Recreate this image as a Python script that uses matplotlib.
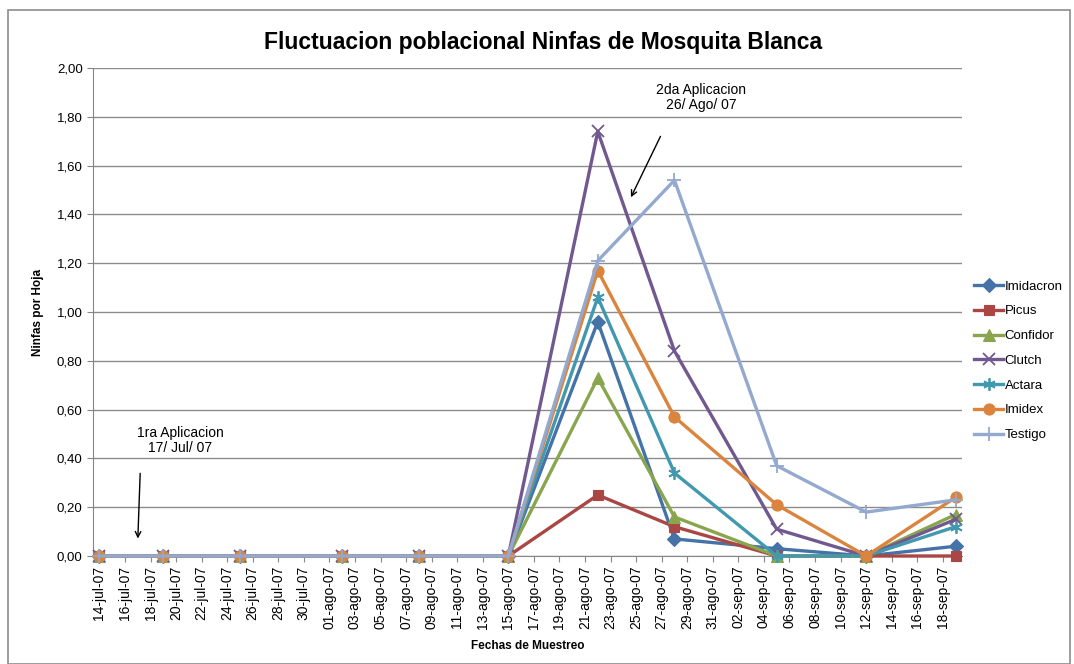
import numpy as np
import pandas as pd
import matplotlib
matplotlib.use("Agg")
from matplotlib import pyplot as plt
from matplotlib.patches import Rectangle

plt.rcParams['font.family'] = ['Liberation Sans', 'DejaVu Sans']

# fechas de muestreo
fechas = pd.to_datetime(['2007-07-14', '2007-07-19', '2007-07-25', '2007-08-02',
                         '2007-08-08', '2007-08-15', '2007-08-22', '2007-08-28',
                         '2007-09-05', '2007-09-12', '2007-09-19'])

imidacron = [0, 0, 0, 0, 0, 0, 0.96, 0.07, 0.03, 0, 0.04]
picus     = [0, 0, 0, 0, 0, 0, 0.25, 0.12, 0, 0, 0]
confidor  = [0, 0, 0, 0, 0, 0, 0.73, 0.16, 0, 0, 0.17]
clutch    = [0, 0, 0, 0, 0, 0, 1.74, 0.84, 0.11, 0, 0.15]
actara    = [0, 0, 0, 0, 0, 0, 1.06, 0.34, 0, 0, 0.12]
imidex    = [0, 0, 0, 0, 0, 0, 1.17, 0.57, 0.21, 0, 0.24]
testigo   = [0, 0, 0, 0, 0, 0, 1.21, 1.54, 0.37, 0.18, 0.23]

meses = {7: 'jul', 8: 'ago', 9: 'sep'}

series = [
    ('Imidacron', imidacron, '#4572A7', 'D', 7),
    ('Picus', picus, '#AA4643', 's', 7.5),
    ('Confidor', confidor, '#89A54E', '^', 8),
    ('Clutch', clutch, '#71588F', 'x', 8),
    ('Actara', actara, '#4198AF', (6, 2, 0), 9),
    ('Imidex', imidex, '#DB843D', 'o', 8),
    ('Testigo', testigo, '#93A9CF', '+', 10),
]

inicio = fechas[0]
dias = np.array([(f - inicio).days for f in fechas])

fig = plt.figure(figsize=(10.74, 6.64), dpi=100)
fig.patches.append(Rectangle((8 / 1074, 0), 1062 / 1074, 654 / 664,
                             transform=fig.transFigure, fill=False,
                             edgecolor='#8c8c8c', linewidth=1.2))
ax = fig.add_axes([93 / 1074, 1 - 556 / 664, 869 / 1074, 488 / 664])

for nombre, vals, color, mk, ms in series:
    ax.plot(dias, vals, color=color, lw=2.4, marker=mk, markersize=ms,
            markeredgewidth=1.3 if mk in ('x', '+', (6, 2, 0)) else 0.8,
            markeredgecolor=color, label=nombre, clip_on=False, zorder=3)

# eje x: una marca cada 2 dias
tick_dias = np.arange(0, 67, 2)
tick_fechas = [inicio + pd.Timedelta(days=int(d)) for d in tick_dias]
ax.set_xticks(tick_dias)
ax.set_xticklabels(['%02d-%s-07' % (f.day, meses[f.month]) for f in tick_fechas],
                   rotation=90, fontsize=10)
ax.set_xlim(-0.5, 67.5)

yt = np.arange(0, 2.01, 0.2)
ax.set_yticks(yt)
ax.set_yticklabels([('%.2f' % v).replace('.', ',') for v in yt], fontsize=9.5)
ax.tick_params(axis='y', length=4, color='#868686')
ax.set_ylim(0, 2.0)
ax.yaxis.grid(True, color='#8c8c8c', lw=1)
ax.set_axisbelow(True)
ax.tick_params(axis='x', length=4, color='#868686', pad=3)
for s in ['top', 'right']:
    ax.spines[s].set_visible(False)
for s in ['left', 'bottom']:
    ax.spines[s].set_color('#868686')

ax.set_ylabel('Ninfas por Hoja', fontsize=8.5, fontweight='bold', labelpad=9)
ax.set_xlabel('Fechas de Muestreo', fontsize=8.5, fontweight='bold', labelpad=8)
fig.text(0.506, 1 - 42 / 664, 'Fluctuacion poblacional Ninfas de Mosquita Blanca',
         ha='center', va='center', fontsize=16.5, fontweight='bold')

# anotaciones de aplicaciones
ax.annotate('', xy=(3.0, 0.06), xytext=(3.2, 0.35),
            arrowprops=dict(arrowstyle='->', color='black', lw=1))
ax.text(6.3, 0.475, '1ra Aplicacion\n17/ Jul/ 07', ha='center', va='center',
        fontsize=10, linespacing=1.1)
ax.annotate('', xy=(41.5, 1.46), xytext=(44.0, 1.73),
            arrowprops=dict(arrowstyle='->', color='black', lw=1))
ax.text(47.1, 1.88, '2da Aplicacion\n26/ Ago/ 07', ha='center', va='center',
        fontsize=10, linespacing=1.1)

ax.legend(loc='center left', bbox_to_anchor=(1.014, 0.40), frameon=False,
          fontsize=9.5, handlelength=2.2, handletextpad=0.1, labelspacing=0.95,
          borderaxespad=0, borderpad=0)

fig.savefig('out.png', dpi=100)
